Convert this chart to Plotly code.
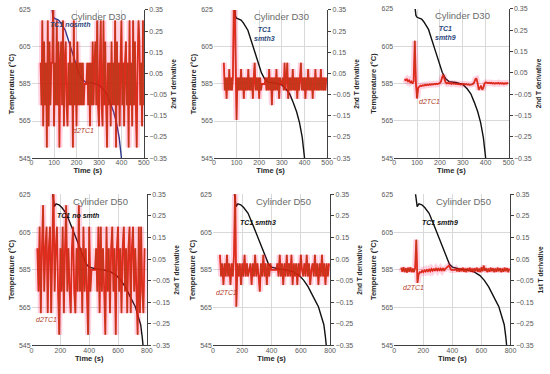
import numpy as np
import plotly.graph_objects as go

# ---------------- data ----------------
# temperature curves (TC1)
top_time = [85, 95, 100, 110, 120, 130, 150, 180, 210, 225, 240, 270, 300, 320, 335, 350, 365, 378, 390, 400, 406]
top_temp = [632, 621.5, 620.5, 620, 619.5, 618, 614, 602.5, 591, 587.5, 586, 585.5, 584.5, 582, 579.5, 575, 570, 564, 556, 545, 538]
bot_time = [135, 150, 158, 170, 190, 210, 240, 280, 330, 380, 400, 450, 500, 550, 590, 620, 650, 680, 700, 720, 740, 757, 767, 774, 780]
bot_temp = [632, 622, 618.5, 620, 619.5, 618, 615, 607.5, 597.5, 588, 586.5, 585.5, 585, 584, 582, 579.5, 576, 571, 568.5, 565.5, 561, 556, 550, 545, 540]

# second derivative d2TC1
d2_p1_start, d2_p1_step = 40, 4
d2_p1 = [0.1, -0.1, 0.3, -0.2, 0.2, -0.1, 0.1, -0.3, 0.3, -0.2, 0.2, -0.1, 0.1, 0.1, 0.4, -0.2,
         0.1, -0.1, 0.3, -0.1, 0.2, -0.3, 0.1, 0.2, -0.1, 0.3, -0.2, 0.1, 0.2, -0.1, -0.2, 0.1,
         -0.1, 0.2, -0.1, 0.1, -0.3, 0.3, -0.1, 0.1, -0.2, 0.2, -0.1, 0.1, -0.1, 0.1, -0.1, 0.1,
         -0.1, 0.0, 0.0, 0.0, 0.1, -0.1, 0.1, -0.2, 0.1, -0.1, 0.2, -0.1, 0.1, 0.2, -0.1, 0.3,
         -0.1, -0.2, 0.1, 0.3, -0.1, -0.2, 0.3, -0.1, 0.2, -0.1, -0.3, 0.1, -0.1, 0.1, -0.2, 0.2,
         -0.1, 0.1, -0.1, 0.3, -0.3, 0.2, -0.1, 0.1, -0.2, 0.1, 0.3, -0.1, 0.1, -0.2, 0.1, 0.2,
         -0.1, 0.1, -0.3, 0.3, -0.1, 0.1, -0.2, 0.3, -0.1, 0.2, -0.1, -0.3, 0.1, 0.3, 0.2, -0.1,
         0.1, -0.2, 0.3, -0.1]

d2_p2_start, d2_p2_step = 44, 4
d2_p2 = [0.1, -0.03, 0.03, -0.07, 0.03, -0.03, 0.07, -0.03, 0.03, -0.03, 0.03, 0.4, 0.4, 0.1, -0.17,
         0.03, -0.03, 0.03, -0.03, 0.07, -0.03, 0.03, -0.07, 0.03, -0.03, 0.03, -0.03, 0.07, -0.03,
         0.03, -0.03, 0.03, -0.07, 0.03, 0.1, -0.03, 0.03, -0.03, 0.03, -0.07, 0.03, -0.03, 0.0,
         0.0, 0.0, 0.0, 0.03, -0.03, 0.03, -0.03, 0.07, -0.03, 0.03, -0.1, 0.03, -0.03, 0.03,
         -0.03, 0.07, -0.03, 0.03, -0.07, 0.03, 0.0, 0.0, 0.03, -0.03, 0.1, -0.03, 0.03, 0.1,
         -0.07, 0.03, -0.03, 0.03, -0.03, 0.07, -0.03, 0.03, -0.03, 0.03, -0.07, 0.03, -0.03, 0.03,
         0.1, -0.03, 0.03, -0.03, 0.03, -0.07, 0.03, -0.03, 0.07, -0.03, 0.03, -0.03, 0.03, -0.07,
         0.03, -0.03, 0.07, -0.03, 0.03, -0.03, 0.03, -0.03, 0.07, -0.03, 0.03, -0.03, 0.03, -0.03, 0.03]

d2_p3_start, d2_p3_step = 45, 5
d2_p3 = [0.02, 0.015, 0.02, 0.01, 0.015, 0.005, 0.01, 0.0, 0.01, 0.2, 0.0, -0.07, -0.02, -0.015,
         -0.01, -0.012, -0.008, -0.01, -0.006, -0.008, -0.005, -0.007, -0.004, -0.006, -0.003,
         -0.005, -0.002, -0.004, -0.001, -0.003, 0.0, 0.002, 0.01, 0.03, 0.04, 0.02, 0.005, 0.0,
         0.003, 0.0, 0.002, -0.002, 0.001, -0.001, 0.0, -0.003, -0.001, -0.004, -0.002, -0.005,
         -0.003, -0.004, -0.002, -0.004, -0.003, -0.005, -0.004, -0.006, -0.005, -0.004, -0.002,
         0.005, 0.02, 0.022, 0.0, -0.03, -0.02, -0.01, -0.03, -0.02, 0.0, 0.005, 0.004, 0.002,
         0.004, 0.001, 0.003, 0.0, 0.002, -0.001, 0.002, 0.0, 0.003, -0.001, 0.002, 0.0, 0.001,
         -0.002, 0.001, 0.0, 0.002, 0.0]

d2_p4_start, d2_p4_step = 40, 8
d2_p4 = [0.1, -0.1, 0.2, -0.2, 0.1, 0.3, -0.1, 0.1, 0.2, -0.2, 0.1, 0.2, -0.2, 0.1, 0.4, -0.1,
         0.1, 0.2, -0.1, -0.3, 0.1, -0.1, 0.2, -0.2, 0.1, 0.3, -0.1, 0.1, -0.1, -0.2, 0.1, 0.2,
         -0.1, -0.2, 0.1, -0.1, 0.3, -0.1, 0.1, -0.2, 0.2, -0.1, 0.1, -0.1, -0.3, 0.2, -0.1, 0.0,
         0.0, 0.0, 0.0, 0.1, -0.1, 0.2, -0.2, 0.2, -0.1, 0.1, -0.1, -0.3, 0.2, -0.1, 0.1, -0.2,
         0.1, 0.2, -0.1, 0.1, -0.3, 0.1, 0.2, -0.1, 0.1, -0.2, 0.1, 0.2, -0.1, 0.1, -0.2, 0.1,
         0.2, -0.2, 0.1, 0.2, -0.1, 0.1, -0.1, -0.3, 0.2, -0.2, 0.2, -0.1, -0.2, 0.1]

d2_p5_start, d2_p5_step = 48, 8
d2_p5 = [0.07, -0.03, 0.03, -0.07, 0.03, -0.03, 0.07, -0.03, 0.03, -0.07, 0.03, -0.03, 0.07, 0.4,
         -0.17, 0.03, -0.03, 0.03, -0.07, 0.03, -0.03, 0.07, -0.03, 0.03, -0.03, 0.0, 0.03, -0.07,
         0.03, -0.03, 0.07, -0.03, 0.03, -0.03, -0.1, 0.03, -0.03, 0.07, -0.03, 0.03, -0.07, 0.03,
         -0.03, 0.03, 0.0, 0.0, 0.0, 0.0, 0.0, 0.03, -0.03, 0.07, -0.03, 0.03, -0.07, 0.03, -0.03,
         0.07, -0.03, 0.03, -0.03, 0.07, -0.07, 0.03, -0.03, 0.03, -0.07, 0.03, -0.03, 0.07, 0.0,
         -0.03, 0.03, -0.03, 0.07, -0.03, 0.03, -0.07, 0.0, 0.03, -0.03, 0.07, -0.03, 0.03, -0.07,
         0.03, -0.03, 0.07, -0.03, 0.03, -0.07, 0.03, -0.03, 0.03]

d2_p6_start, d2_p6_step = 48, 8
d2_p6 = [0.01, -0.008, 0.012, -0.01, 0.008, -0.012, 0.01, -0.008, 0.012, -0.01, 0.006, -0.01, 0.01,
         0.14, -0.06, -0.02, -0.01, -0.012, -0.004, -0.01, -0.002, -0.008, 0.0, -0.006, 0.002,
         -0.006, 0.004, -0.004, 0.006, -0.004, 0.006, -0.002, 0.008, -0.004, 0.006, -0.002, 0.008,
         -0.004, 0.006, 0.01, 0.015, 0.02, 0.01, 0.0, 0.0, 0.0, 0.0, 0.004, -0.006, 0.006, -0.008,
         0.008, -0.006, 0.01, -0.008, 0.006, -0.01, 0.008, -0.006, 0.01, -0.008, 0.006, -0.01,
         0.008, -0.006, 0.01, -0.008, 0.006, -0.01, 0.012, -0.006, 0.02, -0.004, 0.008, -0.01,
         0.006, -0.008, 0.01, -0.006, 0.008, -0.01, 0.006, -0.008, 0.01, -0.006, 0.008, -0.01,
         0.006, -0.008, 0.01, -0.006, 0.008, -0.01, 0.006]

titles = ["Cylinder D30"] * 3 + ["Cylinder D50"] * 3
right_titles = ["2nd T derivative"] * 5 + ["1st T derivative"]
curve_labels = ["TC1 nosmth", "TC1<br>smth3", "TC1<br>smth9", "TC1 no smth", "TC1 smth3", "TC1 smth9"]
x_max = [500, 500, 500, 800, 800, 800]
x_dtick = [100, 100, 100, 200, 200, 200]

# ---------------- layout helpers ----------------
W, H = 550, 374
boxes = [(30, 144, 6, 157), (215, 330, 6, 157), (398, 514, 5, 157),
         (30, 147, 194, 348), (214, 333, 194, 348), (398, 516, 194, 348)]
temp_colors = ["#2E3A8C", "#111111", "#111111", "#111111", "#111111", "#111111"]
label_colors = ["#2E4A7D", "#2E4A7D", "#2E4A7D", "#111111", "#111111", "#111111"]
tc_pos = [(172, 617), (225, 612), (225, 612), (320, 614), (311, 610), (318, 610)]
d2_pos = [(230, 560), None, (156, 575.5), (103, 558.5), (96, 573), (136, 575.5)]

d2_sets = [(d2_p1, d2_p1_start, d2_p1_step), (d2_p2, d2_p2_start, d2_p2_step),
           (d2_p3, d2_p3_start, d2_p3_step), (d2_p4, d2_p4_start, d2_p4_step),
           (d2_p5, d2_p5_start, d2_p5_step), (d2_p6, d2_p6_start, d2_p6_step)]

FONT = "Liberation Sans, Arial, sans-serif"
fig = go.Figure()
annotations = []
layout = dict(width=W, height=H, margin=dict(l=0, r=0, t=0, b=0),
              paper_bgcolor="white", plot_bgcolor="white", showlegend=False,
              font=dict(family=FONT, size=7, color="#595959"))

for i in range(6):
    n = i + 1
    xa = "x" if n == 1 else f"x{n}"
    ya = "y" if n == 1 else f"y{n}"
    yr = f"y{n + 6}"
    x0, x1, y0, y1 = boxes[i]
    dx = [x0 / W, x1 / W]
    dy = [1 - y1 / H, 1 - y0 / H]
    tt, tv = (top_time, top_temp) if i < 3 else (bot_time, bot_temp)
    fig.add_trace(go.Scatter(x=tt, y=tv, xaxis=xa, yaxis=ya, mode="lines",
                             line=dict(color=temp_colors[i], width=1.4), hoverinfo="skip"))
    vals, st, sp = d2_sets[i]
    t = st + sp * np.arange(len(vals))
    # glow (pink halo + red core) under the thin brown line
    fig.add_trace(go.Scatter(x=t, y=vals, xaxis=xa, yaxis=yr, mode="lines",
                             line=dict(color="rgba(255,40,110,0.2)", width=6, simplify=False),
                             hoverinfo="skip"))
    fig.add_trace(go.Scatter(x=t, y=vals, xaxis=xa, yaxis=yr, mode="lines",
                             line=dict(color="rgba(255,0,0,0.85)", width=1.8, simplify=False),
                             hoverinfo="skip"))
    fig.add_trace(go.Scatter(x=t, y=vals, xaxis=xa, yaxis=yr, mode="lines",
                             line=dict(color="#9C4A1A", width=0.6, simplify=False), hoverinfo="skip"))

    layout[f"xaxis{n}"] = dict(domain=dx, anchor=ya, range=[0, x_max[i]], dtick=x_dtick[i], tick0=0,
                               showgrid=True, gridcolor="#D9D9D9", gridwidth=1,
                               showline=True, linecolor="#404040", linewidth=1,
                               ticks="", zeroline=False, tickfont=dict(size=7, color="#595959"),
                               ticklabelstandoff=-2,
                               title=dict(text="<b>Time (s)</b>", font=dict(size=7.5, color="#262626"),
                                          standoff=2))
    layout[f"yaxis{n}"] = dict(domain=dy, anchor=xa, range=[545, 625], dtick=20, tick0=545,
                               showgrid=True, gridcolor="#D9D9D9", gridwidth=1, zeroline=False,
                               showline=False, ticks="", tickfont=dict(size=7, color="#595959"),
                               title=dict(text="<b>Temperature (°C)</b>", font=dict(size=7.5, color="#262626"),
                                          standoff=3))
    layout[f"yaxis{n + 6}"] = dict(overlaying=ya, anchor=xa, side="right", range=[-0.35, 0.35],
                                   tick0=-0.35, dtick=0.1, tickformat=".2f", showgrid=False,
                                   zeroline=False, showline=True, linecolor="#404040", linewidth=1,
                                   ticks="outside", ticklen=3, tickcolor="#404040",
                                   tickfont=dict(size=7, color="#595959"),
                                   title=dict(text=f"<b>{right_titles[i]}</b>",
                                              font=dict(size=6.5, color="#262626"), standoff=5))
    annotations.append(dict(text=titles[i], xref=f"{xa} domain", yref=f"{ya} domain",
                            x=0.6, y=0.955, showarrow=False, xanchor="center", yanchor="middle",
                            font=dict(size=9.5, color="#6b6b6b", family=FONT)))
    annotations.append(dict(text=f"<i><b>{curve_labels[i]}</b></i>", xref=xa, yref=ya,
                            x=tc_pos[i][0], y=tc_pos[i][1], showarrow=False,
                            font=dict(size=7, color=label_colors[i], family=FONT)))
    if d2_pos[i] is not None:
        annotations.append(dict(text="<i>d2TC1</i>", xref=xa, yref=ya,
                                x=d2_pos[i][0], y=d2_pos[i][1], showarrow=False,
                                font=dict(size=7, color="#B03A1E", family=FONT)))

layout["annotations"] = annotations
fig.update_layout(**layout)
fig.write_html("out.html", config={"displayModeBar": False},
               post_script="document.body.style.margin='0';")
